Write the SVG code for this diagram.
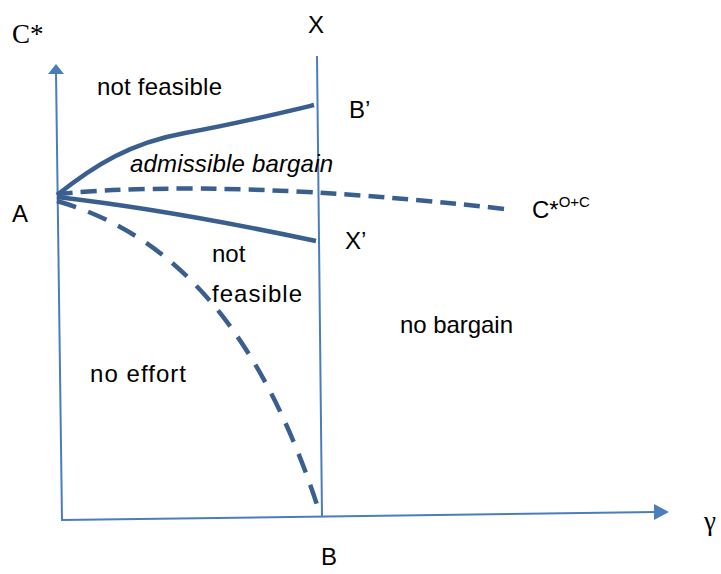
<svg xmlns="http://www.w3.org/2000/svg" width="721" height="574" viewBox="0 0 721 574">
<style>
.axis{stroke:#4a7ebb;stroke-width:2;fill:none}
.head{fill:#4a7ebb}
.curve{stroke:#3a5f8f;stroke-width:4.5;fill:none}
.dash1{stroke-dasharray:16 8}
.dash2{stroke-dasharray:20 13}
.lbl{font-family:"Liberation Sans",Arial,sans-serif;font-size:24px;fill:#000}
.ser{font-family:"Liberation Serif","Times New Roman",serif;font-size:27px;fill:#000}
</style>
<rect width="721" height="574" fill="#fff"/>
<g id="axes">
<line class="axis" x1="56" y1="72" x2="62" y2="521"/>
<polygon class="head" points="56,64 48,74 64,74"/>
<line class="axis" x1="62" y1="520" x2="656" y2="512"/>
<polygon class="head" points="669,512 654,504 654,520"/>
<line class="axis" x1="317" y1="56" x2="322" y2="516"/>
</g>
<g id="connectors">
<path class="curve" d="M57,195 C95,165 130,143 185,133 S285,112 314,105"/>
<path class="curve dash1" d="M57,194 Q230,178 505,209"/>
<path class="curve" d="M57,197 Q170,210 316,241"/>
<path class="curve dash2" d="M57,201 C150,228 252,300 320,514"/>
</g>
<g id="labels">
<text class="ser" x="12" y="43">C*</text>
<text class="lbl" x="308" y="33">X</text>
<text class="lbl" x="321" y="565">B</text>
<text class="ser" x="704" y="530" font-size="26">γ</text>
<text class="lbl" x="97" y="95" textLength="125" lengthAdjust="spacing">not feasible</text>
<text class="lbl" x="130" y="172" font-style="italic" textLength="203" lengthAdjust="spacing">admissible bargain</text>
<text class="lbl" x="12" y="222">A</text>
<text class="lbl" x="349" y="118">B’</text>
<text class="lbl" x="345" y="249">X’</text>
<text class="lbl" x="212" y="262" font-size="26">not</text>
<text class="lbl" x="212" y="302" textLength="90" lengthAdjust="spacing">feasible</text>
<text class="lbl" x="400" y="333" textLength="113" lengthAdjust="spacing">no bargain</text>
<text class="lbl" x="90" y="382" textLength="96" lengthAdjust="spacing">no effort</text>
<text class="lbl" x="532" y="218" font-size="26">C*<tspan font-size="15" dy="-11">O+C</tspan></text>
</g>
</svg>
